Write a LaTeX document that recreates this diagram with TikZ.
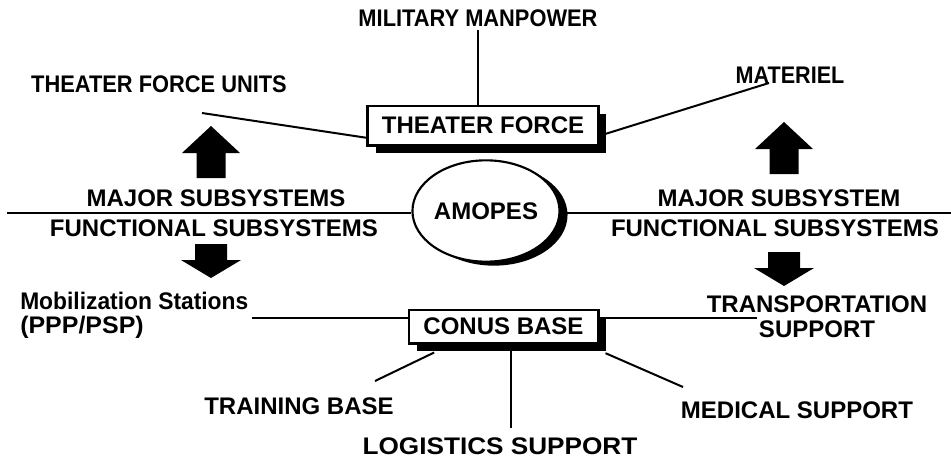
\documentclass[tikz,border=0pt]{standalone}
\usepackage{fontspec}
\setmainfont{Liberation Sans}
\usetikzlibrary{positioning,shapes,shadows}

\newcommand{\lblfont}{\fontsize{18}{19}\selectfont\bfseries}

\begin{document}
\begin{tikzpicture}[x=0.75pt,y=-0.75pt]
\tikzstyle{every node}=[font=\lblfont,inner sep=0pt];
\tikzstyle{box}=[draw,fill=white,line width=2pt,general shadow={fill=black,shadow xshift=6pt,shadow yshift=-6pt}];
\tikzstyle{hub}=[draw,fill=white,ellipse,line width=1.6pt,general shadow={fill=black,shadow xshift=6pt,shadow yshift=-3pt}];
\tikzstyle{link}=[line width=1.5pt];
\tikzstyle{squeeze}=[transform shape,xscale=#1];

\useasboundingbox (0,0) rectangle (951,471);

\draw node[hub,minimum width=103pt,minimum height=76pt] (amopes) at (486,211) {AMOPES};
\draw node[box,minimum width=173pt,minimum height=29.5pt] (tf) at (483,125.5) {THEATER FORCE};
\draw node[box,minimum width=142pt,minimum height=25pt] (cb) at (503.5,326.5) {CONUS BASE};

\draw node[squeeze=0.91] (mm) at (478,18) {MILITARY MANPOWER};
\draw node[squeeze=0.91] (tfu) at (159,84) {THEATER FORCE UNITS};
\draw node[squeeze=0.9] (mat) at (790,75) {MATERIEL};
\draw node (majl) at (216,198) {MAJOR SUBSYSTEMS};
\draw node (funl) at (214,228) {FUNCTIONAL SUBSYSTEMS};
\draw node (majr) at (779,198) {MAJOR SUBSYSTEM};
\draw node (funr) at (775,228) {FUNCTIONAL SUBSYSTEMS};
\draw node[anchor=west,squeeze=0.95] (mob) at (20,301) {Mobilization Stations};
\draw node[anchor=west,squeeze=1.04] (ppp) at (20,327) {(PPP/PSP)};
\draw node[align=center] (trs) at (817,316.5) {TRANSPORTATION\\SUPPORT};
\draw node (trb) at (299,406) {TRAINING BASE};
\draw node[squeeze=1.09] (lgs) at (500,446) {LOGISTICS SUPPORT};
\draw node (med) at (797,410) {MEDICAL SUPPORT};

\coordinate (mmend) at (478,30);
\coordinate (tfuend) at (202,113);
\coordinate (matend) at (769,83);
\coordinate (westend) at (7,213);
\coordinate (eastend) at (951,213);
\coordinate (mobend) at (252,318);
\coordinate (trsend) at (757,318);
\coordinate (trbend) at (375,381);
\coordinate (lgsend) at (511,428);
\coordinate (medend) at (683,387);

\draw[link] (mmend) -- (mmend |- tf.north);
\draw[link] (tfuend) -- (tf.186);
\draw[link] (matend) -- (tf.355);
\draw[link] (westend) -- (westend -| amopes.west);
\draw[link] (eastend) -- (eastend -| amopes.east);
\draw[link] (mobend) -- (mobend -| cb.west);
\draw[link] (trsend) -- (trsend -| cb.east);
\draw[link] (trbend) -- ([xshift=20pt,yshift=-6pt]cb.south west);
\draw[link] (lgsend) -- (lgsend |- cb.south);
\draw[link] (medend) -- ([xshift=4.5pt,yshift=-6.5pt]cb.south east);

% block arrows
\foreach \x/\y in {211/126,784/122}
  \fill[shift={(\x,\y)}] (0,0) -- (29,27) -- (14.5,27) -- (14.5,52) -- (-14.5,52) -- (-14.5,27) -- (-29,27) -- cycle;
\foreach \x/\y in {211/244,784/252}
  \fill[shift={(\x,\y)}] (-16,0) -- (16,0) -- (16,16) -- (30,16) -- (0,34) -- (-30,16) -- (-16,16) -- cycle;
\end{tikzpicture}
\end{document}
